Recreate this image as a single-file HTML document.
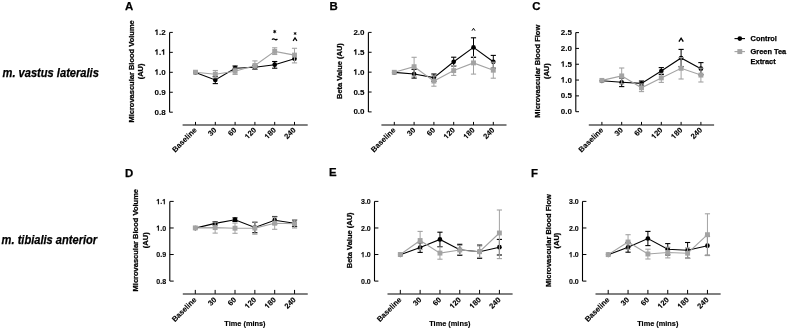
<!DOCTYPE html><html><head><meta charset="utf-8"><style>
html,body{margin:0;padding:0;background:#fff;}
svg{display:block;} #w{width:787px;height:329px;overflow:hidden;will-change:transform;}
text{font-family:"Liberation Sans", sans-serif;font-weight:bold;fill:#000;stroke:#000;stroke-width:0.25px;} path.o{fill:#000;stroke:#000;}
</style></head><body><div id="w">
<svg width="787" height="329" viewBox="0 0 787 329">
<rect width="787" height="329" fill="#fff"/>
<text x="2.5" y="76.7" textLength="96.4" lengthAdjust="spacingAndGlyphs" style="font-size:12.0px;font-style:italic">m. vastus lateralis</text>
<text x="1.6" y="243.6" textLength="95.6" lengthAdjust="spacingAndGlyphs" style="font-size:12.0px;font-style:italic">m. tibialis anterior</text>
<text x="125.0" y="10.2" style="font-size:11.4px">A</text>
<line x1="169.6" y1="32.4" x2="169.6" y2="112.2" stroke="#000" stroke-width="1.1"/>
<line x1="169.6" y1="32.40" x2="172.80" y2="32.40" stroke="#000" stroke-width="1"/>
<g transform="translate(165.700 34.900)"><text x="-11.121" y="0" style="font-size:8.0px;stroke-width:0.1px">&#8199;.2</text><path class="o" transform="translate(-11.121 0) scale(0.00391 -0.00391)" d="M759,0H478V1059Q328,915 140,846V1101Q235,1137 358,1237Q470,1327 520,1409H759Z" stroke-width="25.6"/></g>
<line x1="169.6" y1="52.35" x2="172.80" y2="52.35" stroke="#000" stroke-width="1"/>
<g transform="translate(165.700 54.850)"><text x="-11.121" y="0" style="font-size:8.0px;stroke-width:0.1px">&#8199;.&#8199;</text><path class="o" transform="translate(-11.121 0) scale(0.00391 -0.00391)" d="M759,0H478V1059Q328,915 140,846V1101Q235,1137 358,1237Q470,1327 520,1409H759Z" stroke-width="25.6"/><path class="o" transform="translate(-4.449 0) scale(0.00391 -0.00391)" d="M759,0H478V1059Q328,915 140,846V1101Q235,1137 358,1237Q470,1327 520,1409H759Z" stroke-width="25.6"/></g>
<line x1="169.6" y1="72.30" x2="172.80" y2="72.30" stroke="#000" stroke-width="1"/>
<g transform="translate(165.700 74.800)"><text x="-11.121" y="0" style="font-size:8.0px;stroke-width:0.1px">&#8199;.0</text><path class="o" transform="translate(-11.121 0) scale(0.00391 -0.00391)" d="M759,0H478V1059Q328,915 140,846V1101Q235,1137 358,1237Q470,1327 520,1409H759Z" stroke-width="25.6"/></g>
<line x1="169.6" y1="92.25" x2="172.80" y2="92.25" stroke="#000" stroke-width="1"/>
<g transform="translate(165.700 94.750)"><text x="-11.121" y="0" style="font-size:8.0px;stroke-width:0.1px">0.9</text></g>
<line x1="169.6" y1="112.20" x2="172.80" y2="112.20" stroke="#000" stroke-width="1"/>
<g transform="translate(165.700 114.700)"><text x="-11.121" y="0" style="font-size:8.0px;stroke-width:0.1px">0.8</text></g>
<text x="134.3" y="71.4" text-anchor="middle" transform="rotate(-90 134.3 71.4)" style="font-size:7.5px">Microvascular Blood Volume</text>
<text x="143.3" y="71.4" text-anchor="middle" transform="rotate(-90 143.3 71.4)" style="font-size:7.5px">(AU)</text>
<line x1="182.60" y1="124.9" x2="307.70" y2="124.9" stroke="#808080" stroke-width="2.0"/>
<line x1="195.50" y1="121.90" x2="195.50" y2="124.9" stroke="#000" stroke-width="1"/>
<text x="197.30" y="130.60" text-anchor="end" transform="rotate(-45 197.30 130.60)" style="font-size:7.6px;stroke-width:0.12px">Baseline</text>
<line x1="215.30" y1="121.90" x2="215.30" y2="124.9" stroke="#000" stroke-width="1"/>
<g transform="translate(217.100 130.600) rotate(-45)"><text x="-8.454" y="0" style="font-size:7.6px;stroke-width:0.12px">30</text></g>
<line x1="235.10" y1="121.90" x2="235.10" y2="124.9" stroke="#000" stroke-width="1"/>
<g transform="translate(236.900 130.600) rotate(-45)"><text x="-8.454" y="0" style="font-size:7.6px;stroke-width:0.12px">60</text></g>
<line x1="254.90" y1="121.90" x2="254.90" y2="124.9" stroke="#000" stroke-width="1"/>
<g transform="translate(256.700 130.600) rotate(-45)"><text x="-12.680" y="0" style="font-size:7.6px;stroke-width:0.12px">&#8199;20</text><path class="o" transform="translate(-12.680 0) scale(0.00371 -0.00371)" d="M759,0H478V1059Q328,915 140,846V1101Q235,1137 358,1237Q470,1327 520,1409H759Z" stroke-width="32.3"/></g>
<line x1="274.70" y1="121.90" x2="274.70" y2="124.9" stroke="#000" stroke-width="1"/>
<g transform="translate(276.500 130.600) rotate(-45)"><text x="-12.680" y="0" style="font-size:7.6px;stroke-width:0.12px">&#8199;80</text><path class="o" transform="translate(-12.680 0) scale(0.00371 -0.00371)" d="M759,0H478V1059Q328,915 140,846V1101Q235,1137 358,1237Q470,1327 520,1409H759Z" stroke-width="32.3"/></g>
<line x1="294.50" y1="121.90" x2="294.50" y2="124.9" stroke="#000" stroke-width="1"/>
<g transform="translate(296.300 130.600) rotate(-45)"><text x="-12.680" y="0" style="font-size:7.6px;stroke-width:0.12px">240</text></g>
<polyline points="195.50,72.40 215.30,79.90 235.10,68.20 254.90,67.30 274.70,64.70 294.50,58.70" fill="none" stroke="#000" stroke-width="1.1"/>
<circle cx="195.50" cy="72.40" r="2.35" fill="#000"/>
<line x1="215.30" y1="76.50" x2="215.30" y2="83.60" stroke="#000" stroke-width="1"/>
<line x1="212.70" y1="76.50" x2="217.90" y2="76.50" stroke="#000" stroke-width="1.1"/>
<line x1="212.70" y1="83.60" x2="217.90" y2="83.60" stroke="#000" stroke-width="1.1"/>
<circle cx="215.30" cy="79.90" r="2.35" fill="#000"/>
<line x1="235.10" y1="66.00" x2="235.10" y2="70.40" stroke="#000" stroke-width="1"/>
<line x1="232.50" y1="66.00" x2="237.70" y2="66.00" stroke="#000" stroke-width="1.1"/>
<line x1="232.50" y1="70.40" x2="237.70" y2="70.40" stroke="#000" stroke-width="1.1"/>
<circle cx="235.10" cy="68.20" r="2.35" fill="#000"/>
<line x1="254.90" y1="65.30" x2="254.90" y2="69.30" stroke="#000" stroke-width="1"/>
<line x1="252.30" y1="65.30" x2="257.50" y2="65.30" stroke="#000" stroke-width="1.1"/>
<line x1="252.30" y1="69.30" x2="257.50" y2="69.30" stroke="#000" stroke-width="1.1"/>
<circle cx="254.90" cy="67.30" r="2.35" fill="#000"/>
<line x1="274.70" y1="61.50" x2="274.70" y2="68.20" stroke="#000" stroke-width="1"/>
<line x1="272.10" y1="61.50" x2="277.30" y2="61.50" stroke="#000" stroke-width="1.1"/>
<line x1="272.10" y1="68.20" x2="277.30" y2="68.20" stroke="#000" stroke-width="1.1"/>
<circle cx="274.70" cy="64.70" r="2.35" fill="#000"/>
<circle cx="294.50" cy="58.70" r="2.35" fill="#000"/>
<polyline points="195.50,72.20 215.30,74.20 235.10,71.30 254.90,65.50 274.70,51.40 294.50,55.10" fill="none" stroke="#a3a3a3" stroke-width="1.1"/>
<rect x="193.05" y="69.75" width="4.9" height="4.9" fill="#a3a3a3"/>
<line x1="215.30" y1="70.50" x2="215.30" y2="77.80" stroke="#a3a3a3" stroke-width="1"/>
<line x1="212.70" y1="70.50" x2="217.90" y2="70.50" stroke="#a3a3a3" stroke-width="1.1"/>
<line x1="212.70" y1="77.80" x2="217.90" y2="77.80" stroke="#a3a3a3" stroke-width="1.1"/>
<rect x="212.85" y="71.75" width="4.9" height="4.9" fill="#a3a3a3"/>
<line x1="235.10" y1="68.20" x2="235.10" y2="74.40" stroke="#a3a3a3" stroke-width="1"/>
<line x1="232.50" y1="68.20" x2="237.70" y2="68.20" stroke="#a3a3a3" stroke-width="1.1"/>
<line x1="232.50" y1="74.40" x2="237.70" y2="74.40" stroke="#a3a3a3" stroke-width="1.1"/>
<rect x="232.65" y="68.85" width="4.9" height="4.9" fill="#a3a3a3"/>
<line x1="254.90" y1="60.90" x2="254.90" y2="69.00" stroke="#a3a3a3" stroke-width="1"/>
<line x1="252.30" y1="60.90" x2="257.50" y2="60.90" stroke="#a3a3a3" stroke-width="1.1"/>
<line x1="252.30" y1="69.00" x2="257.50" y2="69.00" stroke="#a3a3a3" stroke-width="1.1"/>
<rect x="252.45" y="63.05" width="4.9" height="4.9" fill="#a3a3a3"/>
<line x1="274.70" y1="47.80" x2="274.70" y2="54.50" stroke="#a3a3a3" stroke-width="1"/>
<line x1="272.10" y1="47.80" x2="277.30" y2="47.80" stroke="#a3a3a3" stroke-width="1.1"/>
<line x1="272.10" y1="54.50" x2="277.30" y2="54.50" stroke="#a3a3a3" stroke-width="1.1"/>
<rect x="272.25" y="48.95" width="4.9" height="4.9" fill="#a3a3a3"/>
<line x1="294.50" y1="48.30" x2="294.50" y2="62.90" stroke="#a3a3a3" stroke-width="1"/>
<line x1="291.90" y1="48.30" x2="297.10" y2="48.30" stroke="#a3a3a3" stroke-width="1.1"/>
<line x1="291.90" y1="62.90" x2="297.10" y2="62.90" stroke="#a3a3a3" stroke-width="1.1"/>
<rect x="292.05" y="52.65" width="4.9" height="4.9" fill="#a3a3a3"/>
<g stroke="#000" stroke-width="0.95" stroke-linecap="round"><line x1="274.70" y1="30.30" x2="274.70" y2="32.90"/><line x1="273.57" y1="30.95" x2="275.83" y2="32.25"/><line x1="273.57" y1="32.25" x2="275.83" y2="30.95"/></g>
<path d="M272.00,39.70 C273.08,38.30 273.89,38.70 274.70,39.30 S276.32,40.20 277.40,38.80" fill="none" stroke="#000" stroke-width="1.25"/>
<g stroke="#000" stroke-width="0.81" stroke-linecap="round"><line x1="295.10" y1="32.40" x2="295.10" y2="34.60"/><line x1="294.14" y1="32.95" x2="296.06" y2="34.05"/><line x1="294.14" y1="34.05" x2="296.06" y2="32.95"/></g>
<path d="M293.10,40.90 L295.00,37.90 L296.90,40.90" fill="none" stroke="#000" stroke-width="1.20" stroke-linejoin="miter"/>
<text x="329.5" y="10.0" style="font-size:11.4px">B</text>
<line x1="368.4" y1="32.4" x2="368.4" y2="111.9" stroke="#000" stroke-width="1.1"/>
<line x1="368.4" y1="32.40" x2="371.60" y2="32.40" stroke="#000" stroke-width="1"/>
<g transform="translate(364.500 34.900)"><text x="-11.121" y="0" style="font-size:8.0px;stroke-width:0.1px">2.0</text></g>
<line x1="368.4" y1="52.27" x2="371.60" y2="52.27" stroke="#000" stroke-width="1"/>
<g transform="translate(364.500 54.775)"><text x="-11.121" y="0" style="font-size:8.0px;stroke-width:0.1px">&#8199;.5</text><path class="o" transform="translate(-11.121 0) scale(0.00391 -0.00391)" d="M759,0H478V1059Q328,915 140,846V1101Q235,1137 358,1237Q470,1327 520,1409H759Z" stroke-width="25.6"/></g>
<line x1="368.4" y1="72.15" x2="371.60" y2="72.15" stroke="#000" stroke-width="1"/>
<g transform="translate(364.500 74.650)"><text x="-11.121" y="0" style="font-size:8.0px;stroke-width:0.1px">&#8199;.0</text><path class="o" transform="translate(-11.121 0) scale(0.00391 -0.00391)" d="M759,0H478V1059Q328,915 140,846V1101Q235,1137 358,1237Q470,1327 520,1409H759Z" stroke-width="25.6"/></g>
<line x1="368.4" y1="92.03" x2="371.60" y2="92.03" stroke="#000" stroke-width="1"/>
<g transform="translate(364.500 94.525)"><text x="-11.121" y="0" style="font-size:8.0px;stroke-width:0.1px">0.5</text></g>
<line x1="368.4" y1="111.90" x2="371.60" y2="111.90" stroke="#000" stroke-width="1"/>
<g transform="translate(364.500 114.400)"><text x="-11.121" y="0" style="font-size:8.0px;stroke-width:0.1px">0.0</text></g>
<text x="342.0" y="71.1" text-anchor="middle" transform="rotate(-90 342.0 71.1)" style="font-size:7.5px">Beta Value (AU)</text>
<line x1="381.40" y1="124.9" x2="506.50" y2="124.9" stroke="#808080" stroke-width="2.0"/>
<line x1="394.30" y1="121.90" x2="394.30" y2="124.9" stroke="#000" stroke-width="1"/>
<text x="396.10" y="130.60" text-anchor="end" transform="rotate(-45 396.10 130.60)" style="font-size:7.6px;stroke-width:0.12px">Baseline</text>
<line x1="414.10" y1="121.90" x2="414.10" y2="124.9" stroke="#000" stroke-width="1"/>
<g transform="translate(415.900 130.600) rotate(-45)"><text x="-8.454" y="0" style="font-size:7.6px;stroke-width:0.12px">30</text></g>
<line x1="433.90" y1="121.90" x2="433.90" y2="124.9" stroke="#000" stroke-width="1"/>
<g transform="translate(435.700 130.600) rotate(-45)"><text x="-8.454" y="0" style="font-size:7.6px;stroke-width:0.12px">60</text></g>
<line x1="453.70" y1="121.90" x2="453.70" y2="124.9" stroke="#000" stroke-width="1"/>
<g transform="translate(455.500 130.600) rotate(-45)"><text x="-12.680" y="0" style="font-size:7.6px;stroke-width:0.12px">&#8199;20</text><path class="o" transform="translate(-12.680 0) scale(0.00371 -0.00371)" d="M759,0H478V1059Q328,915 140,846V1101Q235,1137 358,1237Q470,1327 520,1409H759Z" stroke-width="32.3"/></g>
<line x1="473.50" y1="121.90" x2="473.50" y2="124.9" stroke="#000" stroke-width="1"/>
<g transform="translate(475.300 130.600) rotate(-45)"><text x="-12.680" y="0" style="font-size:7.6px;stroke-width:0.12px">&#8199;80</text><path class="o" transform="translate(-12.680 0) scale(0.00371 -0.00371)" d="M759,0H478V1059Q328,915 140,846V1101Q235,1137 358,1237Q470,1327 520,1409H759Z" stroke-width="32.3"/></g>
<line x1="493.30" y1="121.90" x2="493.30" y2="124.9" stroke="#000" stroke-width="1"/>
<g transform="translate(495.100 130.600) rotate(-45)"><text x="-12.680" y="0" style="font-size:7.6px;stroke-width:0.12px">240</text></g>
<polyline points="394.30,72.40 414.10,74.00 433.90,77.60 453.70,61.80 473.50,47.40 493.30,61.80" fill="none" stroke="#000" stroke-width="1.1"/>
<circle cx="394.30" cy="72.40" r="2.35" fill="#000"/>
<line x1="414.10" y1="69.40" x2="414.10" y2="78.10" stroke="#000" stroke-width="1"/>
<line x1="411.50" y1="69.40" x2="416.70" y2="69.40" stroke="#000" stroke-width="1.1"/>
<line x1="411.50" y1="78.10" x2="416.70" y2="78.10" stroke="#000" stroke-width="1.1"/>
<circle cx="414.10" cy="74.00" r="2.35" fill="#000"/>
<line x1="433.90" y1="74.00" x2="433.90" y2="81.20" stroke="#000" stroke-width="1"/>
<line x1="431.30" y1="74.00" x2="436.50" y2="74.00" stroke="#000" stroke-width="1.1"/>
<line x1="431.30" y1="81.20" x2="436.50" y2="81.20" stroke="#000" stroke-width="1.1"/>
<circle cx="433.90" cy="77.60" r="2.35" fill="#000"/>
<line x1="453.70" y1="57.20" x2="453.70" y2="66.00" stroke="#000" stroke-width="1"/>
<line x1="451.10" y1="57.20" x2="456.30" y2="57.20" stroke="#000" stroke-width="1.1"/>
<line x1="451.10" y1="66.00" x2="456.30" y2="66.00" stroke="#000" stroke-width="1.1"/>
<circle cx="453.70" cy="61.80" r="2.35" fill="#000"/>
<line x1="473.50" y1="37.80" x2="473.50" y2="57.40" stroke="#000" stroke-width="1"/>
<line x1="470.90" y1="37.80" x2="476.10" y2="37.80" stroke="#000" stroke-width="1.1"/>
<line x1="470.90" y1="57.40" x2="476.10" y2="57.40" stroke="#000" stroke-width="1.1"/>
<circle cx="473.50" cy="47.40" r="2.35" fill="#000"/>
<line x1="493.30" y1="55.40" x2="493.30" y2="68.20" stroke="#000" stroke-width="1"/>
<line x1="490.70" y1="55.40" x2="495.90" y2="55.40" stroke="#000" stroke-width="1.1"/>
<line x1="490.70" y1="68.20" x2="495.90" y2="68.20" stroke="#000" stroke-width="1.1"/>
<circle cx="493.30" cy="61.80" r="2.35" fill="#000"/>
<polyline points="394.30,72.30 414.10,66.70 433.90,81.10 453.70,70.60 473.50,62.90 493.30,70.20" fill="none" stroke="#a3a3a3" stroke-width="1.1"/>
<rect x="391.85" y="69.85" width="4.9" height="4.9" fill="#a3a3a3"/>
<line x1="414.10" y1="57.30" x2="414.10" y2="76.10" stroke="#a3a3a3" stroke-width="1"/>
<line x1="411.50" y1="57.30" x2="416.70" y2="57.30" stroke="#a3a3a3" stroke-width="1.1"/>
<line x1="411.50" y1="76.10" x2="416.70" y2="76.10" stroke="#a3a3a3" stroke-width="1.1"/>
<rect x="411.65" y="64.25" width="4.9" height="4.9" fill="#a3a3a3"/>
<line x1="433.90" y1="76.00" x2="433.90" y2="86.20" stroke="#a3a3a3" stroke-width="1"/>
<line x1="431.30" y1="76.00" x2="436.50" y2="76.00" stroke="#a3a3a3" stroke-width="1.1"/>
<line x1="431.30" y1="86.20" x2="436.50" y2="86.20" stroke="#a3a3a3" stroke-width="1.1"/>
<rect x="431.45" y="78.65" width="4.9" height="4.9" fill="#a3a3a3"/>
<line x1="453.70" y1="65.60" x2="453.70" y2="75.40" stroke="#a3a3a3" stroke-width="1"/>
<line x1="451.10" y1="65.60" x2="456.30" y2="65.60" stroke="#a3a3a3" stroke-width="1.1"/>
<line x1="451.10" y1="75.40" x2="456.30" y2="75.40" stroke="#a3a3a3" stroke-width="1.1"/>
<rect x="451.25" y="68.15" width="4.9" height="4.9" fill="#a3a3a3"/>
<line x1="473.50" y1="56.50" x2="473.50" y2="74.10" stroke="#a3a3a3" stroke-width="1"/>
<line x1="470.90" y1="56.50" x2="476.10" y2="56.50" stroke="#a3a3a3" stroke-width="1.1"/>
<line x1="470.90" y1="74.10" x2="476.10" y2="74.10" stroke="#a3a3a3" stroke-width="1.1"/>
<rect x="471.05" y="60.45" width="4.9" height="4.9" fill="#a3a3a3"/>
<line x1="493.30" y1="62.20" x2="493.30" y2="78.20" stroke="#a3a3a3" stroke-width="1"/>
<line x1="490.70" y1="62.20" x2="495.90" y2="62.20" stroke="#a3a3a3" stroke-width="1.1"/>
<line x1="490.70" y1="78.20" x2="495.90" y2="78.20" stroke="#a3a3a3" stroke-width="1.1"/>
<rect x="490.85" y="67.75" width="4.9" height="4.9" fill="#a3a3a3"/>
<path d="M471.98,30.70 L473.50,28.30 L475.02,30.70" fill="none" stroke="#000" stroke-width="0.96" stroke-linejoin="miter"/>
<text x="532.2" y="10.0" style="font-size:11.4px">C</text>
<line x1="575.8" y1="32.6" x2="575.8" y2="111.7" stroke="#000" stroke-width="1.1"/>
<line x1="575.8" y1="32.60" x2="579.00" y2="32.60" stroke="#000" stroke-width="1"/>
<g transform="translate(571.900 35.100)"><text x="-11.121" y="0" style="font-size:8.0px;stroke-width:0.1px">2.5</text></g>
<line x1="575.8" y1="48.42" x2="579.00" y2="48.42" stroke="#000" stroke-width="1"/>
<g transform="translate(571.900 50.920)"><text x="-11.121" y="0" style="font-size:8.0px;stroke-width:0.1px">2.0</text></g>
<line x1="575.8" y1="64.24" x2="579.00" y2="64.24" stroke="#000" stroke-width="1"/>
<g transform="translate(571.900 66.740)"><text x="-11.121" y="0" style="font-size:8.0px;stroke-width:0.1px">&#8199;.5</text><path class="o" transform="translate(-11.121 0) scale(0.00391 -0.00391)" d="M759,0H478V1059Q328,915 140,846V1101Q235,1137 358,1237Q470,1327 520,1409H759Z" stroke-width="25.6"/></g>
<line x1="575.8" y1="80.06" x2="579.00" y2="80.06" stroke="#000" stroke-width="1"/>
<g transform="translate(571.900 82.560)"><text x="-11.121" y="0" style="font-size:8.0px;stroke-width:0.1px">&#8199;.0</text><path class="o" transform="translate(-11.121 0) scale(0.00391 -0.00391)" d="M759,0H478V1059Q328,915 140,846V1101Q235,1137 358,1237Q470,1327 520,1409H759Z" stroke-width="25.6"/></g>
<line x1="575.8" y1="95.88" x2="579.00" y2="95.88" stroke="#000" stroke-width="1"/>
<g transform="translate(571.900 98.380)"><text x="-11.121" y="0" style="font-size:8.0px;stroke-width:0.1px">0.5</text></g>
<line x1="575.8" y1="111.70" x2="579.00" y2="111.70" stroke="#000" stroke-width="1"/>
<g transform="translate(571.900 114.200)"><text x="-11.121" y="0" style="font-size:8.0px;stroke-width:0.1px">0.0</text></g>
<text x="540.1" y="71.2" text-anchor="middle" transform="rotate(-90 540.1 71.2)" style="font-size:7.5px">Microvascular Blood Flow</text>
<text x="549.5" y="71.2" text-anchor="middle" transform="rotate(-90 549.5 71.2)" style="font-size:7.5px">(AU)</text>
<line x1="588.80" y1="124.9" x2="714.10" y2="124.9" stroke="#808080" stroke-width="2.0"/>
<line x1="601.90" y1="121.90" x2="601.90" y2="124.9" stroke="#000" stroke-width="1"/>
<text x="603.70" y="130.60" text-anchor="end" transform="rotate(-45 603.70 130.60)" style="font-size:7.6px;stroke-width:0.12px">Baseline</text>
<line x1="621.70" y1="121.90" x2="621.70" y2="124.9" stroke="#000" stroke-width="1"/>
<g transform="translate(623.500 130.600) rotate(-45)"><text x="-8.454" y="0" style="font-size:7.6px;stroke-width:0.12px">30</text></g>
<line x1="641.50" y1="121.90" x2="641.50" y2="124.9" stroke="#000" stroke-width="1"/>
<g transform="translate(643.300 130.600) rotate(-45)"><text x="-8.454" y="0" style="font-size:7.6px;stroke-width:0.12px">60</text></g>
<line x1="661.30" y1="121.90" x2="661.30" y2="124.9" stroke="#000" stroke-width="1"/>
<g transform="translate(663.100 130.600) rotate(-45)"><text x="-12.680" y="0" style="font-size:7.6px;stroke-width:0.12px">&#8199;20</text><path class="o" transform="translate(-12.680 0) scale(0.00371 -0.00371)" d="M759,0H478V1059Q328,915 140,846V1101Q235,1137 358,1237Q470,1327 520,1409H759Z" stroke-width="32.3"/></g>
<line x1="681.10" y1="121.90" x2="681.10" y2="124.9" stroke="#000" stroke-width="1"/>
<g transform="translate(682.900 130.600) rotate(-45)"><text x="-12.680" y="0" style="font-size:7.6px;stroke-width:0.12px">&#8199;80</text><path class="o" transform="translate(-12.680 0) scale(0.00371 -0.00371)" d="M759,0H478V1059Q328,915 140,846V1101Q235,1137 358,1237Q470,1327 520,1409H759Z" stroke-width="32.3"/></g>
<line x1="700.90" y1="121.90" x2="700.90" y2="124.9" stroke="#000" stroke-width="1"/>
<g transform="translate(702.700 130.600) rotate(-45)"><text x="-12.680" y="0" style="font-size:7.6px;stroke-width:0.12px">240</text></g>
<polyline points="601.90,80.80 621.70,82.30 641.50,83.40 661.30,71.00 681.10,58.00 700.90,68.70" fill="none" stroke="#000" stroke-width="1.1"/>
<circle cx="601.90" cy="80.80" r="2.35" fill="#000"/>
<line x1="621.70" y1="78.00" x2="621.70" y2="86.60" stroke="#000" stroke-width="1"/>
<line x1="619.10" y1="78.00" x2="624.30" y2="78.00" stroke="#000" stroke-width="1.1"/>
<line x1="619.10" y1="86.60" x2="624.30" y2="86.60" stroke="#000" stroke-width="1.1"/>
<circle cx="621.70" cy="82.30" r="2.35" fill="#000"/>
<line x1="641.50" y1="81.00" x2="641.50" y2="85.80" stroke="#000" stroke-width="1"/>
<line x1="638.90" y1="81.00" x2="644.10" y2="81.00" stroke="#000" stroke-width="1.1"/>
<line x1="638.90" y1="85.80" x2="644.10" y2="85.80" stroke="#000" stroke-width="1.1"/>
<circle cx="641.50" cy="83.40" r="2.35" fill="#000"/>
<line x1="661.30" y1="67.60" x2="661.30" y2="74.40" stroke="#000" stroke-width="1"/>
<line x1="658.70" y1="67.60" x2="663.90" y2="67.60" stroke="#000" stroke-width="1.1"/>
<line x1="658.70" y1="74.40" x2="663.90" y2="74.40" stroke="#000" stroke-width="1.1"/>
<circle cx="661.30" cy="71.00" r="2.35" fill="#000"/>
<line x1="681.10" y1="49.40" x2="681.10" y2="66.60" stroke="#000" stroke-width="1"/>
<line x1="678.50" y1="49.40" x2="683.70" y2="49.40" stroke="#000" stroke-width="1.1"/>
<line x1="678.50" y1="66.60" x2="683.70" y2="66.60" stroke="#000" stroke-width="1.1"/>
<circle cx="681.10" cy="58.00" r="2.35" fill="#000"/>
<line x1="700.90" y1="62.60" x2="700.90" y2="74.80" stroke="#000" stroke-width="1"/>
<line x1="698.30" y1="62.60" x2="703.50" y2="62.60" stroke="#000" stroke-width="1.1"/>
<line x1="698.30" y1="74.80" x2="703.50" y2="74.80" stroke="#000" stroke-width="1.1"/>
<circle cx="700.90" cy="68.70" r="2.35" fill="#000"/>
<polyline points="601.90,80.40 621.70,75.90 641.50,87.80 661.30,77.90 681.10,68.30 700.90,75.10" fill="none" stroke="#a3a3a3" stroke-width="1.1"/>
<rect x="599.45" y="77.95" width="4.9" height="4.9" fill="#a3a3a3"/>
<line x1="621.70" y1="68.00" x2="621.70" y2="83.80" stroke="#a3a3a3" stroke-width="1"/>
<line x1="619.10" y1="68.00" x2="624.30" y2="68.00" stroke="#a3a3a3" stroke-width="1.1"/>
<line x1="619.10" y1="83.80" x2="624.30" y2="83.80" stroke="#a3a3a3" stroke-width="1.1"/>
<rect x="619.25" y="73.45" width="4.9" height="4.9" fill="#a3a3a3"/>
<line x1="641.50" y1="84.00" x2="641.50" y2="91.60" stroke="#a3a3a3" stroke-width="1"/>
<line x1="638.90" y1="84.00" x2="644.10" y2="84.00" stroke="#a3a3a3" stroke-width="1.1"/>
<line x1="638.90" y1="91.60" x2="644.10" y2="91.60" stroke="#a3a3a3" stroke-width="1.1"/>
<rect x="639.05" y="85.35" width="4.9" height="4.9" fill="#a3a3a3"/>
<line x1="661.30" y1="73.40" x2="661.30" y2="82.40" stroke="#a3a3a3" stroke-width="1"/>
<line x1="658.70" y1="73.40" x2="663.90" y2="73.40" stroke="#a3a3a3" stroke-width="1.1"/>
<line x1="658.70" y1="82.40" x2="663.90" y2="82.40" stroke="#a3a3a3" stroke-width="1.1"/>
<rect x="658.85" y="75.45" width="4.9" height="4.9" fill="#a3a3a3"/>
<line x1="681.10" y1="57.60" x2="681.10" y2="79.00" stroke="#a3a3a3" stroke-width="1"/>
<line x1="678.50" y1="57.60" x2="683.70" y2="57.60" stroke="#a3a3a3" stroke-width="1.1"/>
<line x1="678.50" y1="79.00" x2="683.70" y2="79.00" stroke="#a3a3a3" stroke-width="1.1"/>
<rect x="678.65" y="65.85" width="4.9" height="4.9" fill="#a3a3a3"/>
<line x1="700.90" y1="68.20" x2="700.90" y2="82.00" stroke="#a3a3a3" stroke-width="1"/>
<line x1="698.30" y1="68.20" x2="703.50" y2="68.20" stroke="#a3a3a3" stroke-width="1.1"/>
<line x1="698.30" y1="82.00" x2="703.50" y2="82.00" stroke="#a3a3a3" stroke-width="1.1"/>
<rect x="698.45" y="72.65" width="4.9" height="4.9" fill="#a3a3a3"/>
<path d="M678.92,41.62 L681.10,38.17 L683.28,41.62" fill="none" stroke="#000" stroke-width="1.38" stroke-linejoin="miter"/>
<text x="125.1" y="177.0" style="font-size:11.4px">D</text>
<line x1="169.8" y1="201.4" x2="169.8" y2="281.1" stroke="#000" stroke-width="1.1"/>
<line x1="169.8" y1="201.40" x2="173.70" y2="201.40" stroke="#000" stroke-width="1"/>
<g transform="translate(166.100 204.200) scale(0.92 1)"><text x="-10.704" y="0" style="font-size:7.7px;stroke-width:0.1px">&#8199;.&#8199;</text><path class="o" transform="translate(-10.704 0) scale(0.00376 -0.00376)" d="M759,0H478V1059Q328,915 140,846V1101Q235,1137 358,1237Q470,1327 520,1409H759Z" stroke-width="26.6"/><path class="o" transform="translate(-4.282 0) scale(0.00376 -0.00376)" d="M759,0H478V1059Q328,915 140,846V1101Q235,1137 358,1237Q470,1327 520,1409H759Z" stroke-width="26.6"/></g>
<line x1="169.8" y1="227.97" x2="173.70" y2="227.97" stroke="#000" stroke-width="1"/>
<g transform="translate(166.100 230.767) scale(0.92 1)"><text x="-10.704" y="0" style="font-size:7.7px;stroke-width:0.1px">&#8199;.0</text><path class="o" transform="translate(-10.704 0) scale(0.00376 -0.00376)" d="M759,0H478V1059Q328,915 140,846V1101Q235,1137 358,1237Q470,1327 520,1409H759Z" stroke-width="26.6"/></g>
<line x1="169.8" y1="254.53" x2="173.70" y2="254.53" stroke="#000" stroke-width="1"/>
<g transform="translate(166.100 257.333) scale(0.92 1)"><text x="-10.704" y="0" style="font-size:7.7px;stroke-width:0.1px">0.9</text></g>
<line x1="169.8" y1="281.10" x2="173.70" y2="281.10" stroke="#000" stroke-width="1"/>
<g transform="translate(166.100 283.900) scale(0.92 1)"><text x="-10.704" y="0" style="font-size:7.7px;stroke-width:0.1px">0.8</text></g>
<text x="138.0" y="240.2" text-anchor="middle" transform="rotate(-90 138.0 240.2)" style="font-size:7.5px">Microvascular Blood Volume</text>
<text x="148.3" y="240.2" text-anchor="middle" transform="rotate(-90 148.3 240.2)" style="font-size:7.5px">(AU)</text>
<line x1="182.80" y1="293.9" x2="307.75" y2="293.9" stroke="#808080" stroke-width="2.0"/>
<line x1="195.30" y1="289.90" x2="195.30" y2="293.9" stroke="#000" stroke-width="1"/>
<text x="197.10" y="300.20" text-anchor="end" transform="rotate(-45 197.10 300.20)" style="font-size:7.6px;stroke-width:0.12px">Baseline</text>
<line x1="215.15" y1="289.90" x2="215.15" y2="293.9" stroke="#000" stroke-width="1"/>
<g transform="translate(216.950 300.200) rotate(-45)"><text x="-8.454" y="0" style="font-size:7.6px;stroke-width:0.12px">30</text></g>
<line x1="235.00" y1="289.90" x2="235.00" y2="293.9" stroke="#000" stroke-width="1"/>
<g transform="translate(236.800 300.200) rotate(-45)"><text x="-8.454" y="0" style="font-size:7.6px;stroke-width:0.12px">60</text></g>
<line x1="254.85" y1="289.90" x2="254.85" y2="293.9" stroke="#000" stroke-width="1"/>
<g transform="translate(256.650 300.200) rotate(-45)"><text x="-12.680" y="0" style="font-size:7.6px;stroke-width:0.12px">&#8199;20</text><path class="o" transform="translate(-12.680 0) scale(0.00371 -0.00371)" d="M759,0H478V1059Q328,915 140,846V1101Q235,1137 358,1237Q470,1327 520,1409H759Z" stroke-width="32.3"/></g>
<line x1="274.70" y1="289.90" x2="274.70" y2="293.9" stroke="#000" stroke-width="1"/>
<g transform="translate(276.500 300.200) rotate(-45)"><text x="-12.680" y="0" style="font-size:7.6px;stroke-width:0.12px">&#8199;80</text><path class="o" transform="translate(-12.680 0) scale(0.00371 -0.00371)" d="M759,0H478V1059Q328,915 140,846V1101Q235,1137 358,1237Q470,1327 520,1409H759Z" stroke-width="32.3"/></g>
<line x1="294.55" y1="289.90" x2="294.55" y2="293.9" stroke="#000" stroke-width="1"/>
<g transform="translate(296.350 300.200) rotate(-45)"><text x="-12.680" y="0" style="font-size:7.6px;stroke-width:0.12px">240</text></g>
<text x="244.93" y="325.90" text-anchor="middle" textLength="41.2" lengthAdjust="spacingAndGlyphs" style="font-size:7.7px;stroke-width:0.15px">Time (mins)</text>
<polyline points="195.30,228.10 215.15,223.40 235.00,219.70 254.85,227.50 274.70,220.20 294.55,223.30" fill="none" stroke="#000" stroke-width="1.1"/>
<circle cx="195.30" cy="228.10" r="2.35" fill="#000"/>
<line x1="215.15" y1="221.80" x2="215.15" y2="225.00" stroke="#000" stroke-width="1"/>
<line x1="212.55" y1="221.80" x2="217.75" y2="221.80" stroke="#000" stroke-width="1.1"/>
<line x1="212.55" y1="225.00" x2="217.75" y2="225.00" stroke="#000" stroke-width="1.1"/>
<circle cx="215.15" cy="223.40" r="2.35" fill="#000"/>
<line x1="235.00" y1="217.90" x2="235.00" y2="221.50" stroke="#000" stroke-width="1"/>
<line x1="232.40" y1="217.90" x2="237.60" y2="217.90" stroke="#000" stroke-width="1.1"/>
<line x1="232.40" y1="221.50" x2="237.60" y2="221.50" stroke="#000" stroke-width="1.1"/>
<circle cx="235.00" cy="219.70" r="2.35" fill="#000"/>
<line x1="254.85" y1="222.30" x2="254.85" y2="232.70" stroke="#000" stroke-width="1"/>
<line x1="252.25" y1="222.30" x2="257.45" y2="222.30" stroke="#000" stroke-width="1.1"/>
<line x1="252.25" y1="232.70" x2="257.45" y2="232.70" stroke="#000" stroke-width="1.1"/>
<circle cx="254.85" cy="227.50" r="2.35" fill="#000"/>
<line x1="274.70" y1="216.50" x2="274.70" y2="223.90" stroke="#000" stroke-width="1"/>
<line x1="272.10" y1="216.50" x2="277.30" y2="216.50" stroke="#000" stroke-width="1.1"/>
<line x1="272.10" y1="223.90" x2="277.30" y2="223.90" stroke="#000" stroke-width="1.1"/>
<circle cx="274.70" cy="220.20" r="2.35" fill="#000"/>
<line x1="294.55" y1="220.00" x2="294.55" y2="226.60" stroke="#000" stroke-width="1"/>
<line x1="291.95" y1="220.00" x2="297.15" y2="220.00" stroke="#000" stroke-width="1.1"/>
<line x1="291.95" y1="226.60" x2="297.15" y2="226.60" stroke="#000" stroke-width="1.1"/>
<circle cx="294.55" cy="223.30" r="2.35" fill="#000"/>
<polyline points="195.30,227.90 215.15,227.60 235.00,228.20 254.85,228.10 274.70,223.20 294.55,223.80" fill="none" stroke="#a3a3a3" stroke-width="1.1"/>
<rect x="192.85" y="225.45" width="4.9" height="4.9" fill="#a3a3a3"/>
<line x1="215.15" y1="222.10" x2="215.15" y2="233.10" stroke="#a3a3a3" stroke-width="1"/>
<line x1="212.55" y1="222.10" x2="217.75" y2="222.10" stroke="#a3a3a3" stroke-width="1.1"/>
<line x1="212.55" y1="233.10" x2="217.75" y2="233.10" stroke="#a3a3a3" stroke-width="1.1"/>
<rect x="212.70" y="225.15" width="4.9" height="4.9" fill="#a3a3a3"/>
<line x1="235.00" y1="223.10" x2="235.00" y2="233.30" stroke="#a3a3a3" stroke-width="1"/>
<line x1="232.40" y1="223.10" x2="237.60" y2="223.10" stroke="#a3a3a3" stroke-width="1.1"/>
<line x1="232.40" y1="233.30" x2="237.60" y2="233.30" stroke="#a3a3a3" stroke-width="1.1"/>
<rect x="232.55" y="225.75" width="4.9" height="4.9" fill="#a3a3a3"/>
<line x1="254.85" y1="222.00" x2="254.85" y2="234.20" stroke="#a3a3a3" stroke-width="1"/>
<line x1="252.25" y1="222.00" x2="257.45" y2="222.00" stroke="#a3a3a3" stroke-width="1.1"/>
<line x1="252.25" y1="234.20" x2="257.45" y2="234.20" stroke="#a3a3a3" stroke-width="1.1"/>
<rect x="252.40" y="225.65" width="4.9" height="4.9" fill="#a3a3a3"/>
<line x1="274.70" y1="217.10" x2="274.70" y2="229.30" stroke="#a3a3a3" stroke-width="1"/>
<line x1="272.10" y1="217.10" x2="277.30" y2="217.10" stroke="#a3a3a3" stroke-width="1.1"/>
<line x1="272.10" y1="229.30" x2="277.30" y2="229.30" stroke="#a3a3a3" stroke-width="1.1"/>
<rect x="272.25" y="220.75" width="4.9" height="4.9" fill="#a3a3a3"/>
<line x1="294.55" y1="219.60" x2="294.55" y2="228.00" stroke="#a3a3a3" stroke-width="1"/>
<line x1="291.95" y1="219.60" x2="297.15" y2="219.60" stroke="#a3a3a3" stroke-width="1.1"/>
<line x1="291.95" y1="228.00" x2="297.15" y2="228.00" stroke="#a3a3a3" stroke-width="1.1"/>
<rect x="292.10" y="221.35" width="4.9" height="4.9" fill="#a3a3a3"/>
<text x="329.0" y="175.8" style="font-size:11.4px">E</text>
<line x1="374.5" y1="201.4" x2="374.5" y2="281.1" stroke="#000" stroke-width="1.1"/>
<line x1="374.5" y1="201.40" x2="378.40" y2="201.40" stroke="#000" stroke-width="1"/>
<g transform="translate(370.800 204.200) scale(0.92 1)"><text x="-10.704" y="0" style="font-size:7.7px;stroke-width:0.1px">3.0</text></g>
<line x1="374.5" y1="227.97" x2="378.40" y2="227.97" stroke="#000" stroke-width="1"/>
<g transform="translate(370.800 230.767) scale(0.92 1)"><text x="-10.704" y="0" style="font-size:7.7px;stroke-width:0.1px">2.0</text></g>
<line x1="374.5" y1="254.53" x2="378.40" y2="254.53" stroke="#000" stroke-width="1"/>
<g transform="translate(370.800 257.333) scale(0.92 1)"><text x="-10.704" y="0" style="font-size:7.7px;stroke-width:0.1px">&#8199;.0</text><path class="o" transform="translate(-10.704 0) scale(0.00376 -0.00376)" d="M759,0H478V1059Q328,915 140,846V1101Q235,1137 358,1237Q470,1327 520,1409H759Z" stroke-width="26.6"/></g>
<line x1="374.5" y1="281.10" x2="378.40" y2="281.10" stroke="#000" stroke-width="1"/>
<g transform="translate(370.800 283.900) scale(0.92 1)"><text x="-10.704" y="0" style="font-size:7.7px;stroke-width:0.1px">0.0</text></g>
<text x="352.4" y="240.3" text-anchor="middle" transform="rotate(-90 352.4 240.3)" style="font-size:7.5px">Beta Value (AU)</text>
<line x1="387.50" y1="293.9" x2="512.60" y2="293.9" stroke="#808080" stroke-width="2.0"/>
<line x1="400.30" y1="289.90" x2="400.30" y2="293.9" stroke="#000" stroke-width="1"/>
<text x="402.10" y="300.20" text-anchor="end" transform="rotate(-45 402.10 300.20)" style="font-size:7.6px;stroke-width:0.12px">Baseline</text>
<line x1="420.12" y1="289.90" x2="420.12" y2="293.9" stroke="#000" stroke-width="1"/>
<g transform="translate(421.920 300.200) rotate(-45)"><text x="-8.454" y="0" style="font-size:7.6px;stroke-width:0.12px">30</text></g>
<line x1="439.94" y1="289.90" x2="439.94" y2="293.9" stroke="#000" stroke-width="1"/>
<g transform="translate(441.740 300.200) rotate(-45)"><text x="-8.454" y="0" style="font-size:7.6px;stroke-width:0.12px">60</text></g>
<line x1="459.76" y1="289.90" x2="459.76" y2="293.9" stroke="#000" stroke-width="1"/>
<g transform="translate(461.560 300.200) rotate(-45)"><text x="-12.680" y="0" style="font-size:7.6px;stroke-width:0.12px">&#8199;20</text><path class="o" transform="translate(-12.680 0) scale(0.00371 -0.00371)" d="M759,0H478V1059Q328,915 140,846V1101Q235,1137 358,1237Q470,1327 520,1409H759Z" stroke-width="32.3"/></g>
<line x1="479.58" y1="289.90" x2="479.58" y2="293.9" stroke="#000" stroke-width="1"/>
<g transform="translate(481.380 300.200) rotate(-45)"><text x="-12.680" y="0" style="font-size:7.6px;stroke-width:0.12px">&#8199;80</text><path class="o" transform="translate(-12.680 0) scale(0.00371 -0.00371)" d="M759,0H478V1059Q328,915 140,846V1101Q235,1137 358,1237Q470,1327 520,1409H759Z" stroke-width="32.3"/></g>
<line x1="499.40" y1="289.90" x2="499.40" y2="293.9" stroke="#000" stroke-width="1"/>
<g transform="translate(501.200 300.200) rotate(-45)"><text x="-12.680" y="0" style="font-size:7.6px;stroke-width:0.12px">240</text></g>
<text x="449.85" y="325.90" text-anchor="middle" textLength="41.2" lengthAdjust="spacingAndGlyphs" style="font-size:7.7px;stroke-width:0.15px">Time (mins)</text>
<polyline points="400.30,254.80 420.12,247.60 439.94,239.40 459.76,249.80 479.58,251.70 499.40,247.20" fill="none" stroke="#000" stroke-width="1.1"/>
<circle cx="400.30" cy="254.80" r="2.35" fill="#000"/>
<line x1="420.12" y1="242.80" x2="420.12" y2="252.40" stroke="#000" stroke-width="1"/>
<line x1="417.52" y1="242.80" x2="422.72" y2="242.80" stroke="#000" stroke-width="1.1"/>
<line x1="417.52" y1="252.40" x2="422.72" y2="252.40" stroke="#000" stroke-width="1.1"/>
<circle cx="420.12" cy="247.60" r="2.35" fill="#000"/>
<line x1="439.94" y1="232.20" x2="439.94" y2="246.60" stroke="#000" stroke-width="1"/>
<line x1="437.34" y1="232.20" x2="442.54" y2="232.20" stroke="#000" stroke-width="1.1"/>
<line x1="437.34" y1="246.60" x2="442.54" y2="246.60" stroke="#000" stroke-width="1.1"/>
<circle cx="439.94" cy="239.40" r="2.35" fill="#000"/>
<line x1="459.76" y1="244.30" x2="459.76" y2="255.30" stroke="#000" stroke-width="1"/>
<line x1="457.16" y1="244.30" x2="462.36" y2="244.30" stroke="#000" stroke-width="1.1"/>
<line x1="457.16" y1="255.30" x2="462.36" y2="255.30" stroke="#000" stroke-width="1.1"/>
<circle cx="459.76" cy="249.80" r="2.35" fill="#000"/>
<line x1="479.58" y1="245.10" x2="479.58" y2="258.30" stroke="#000" stroke-width="1"/>
<line x1="476.98" y1="245.10" x2="482.18" y2="245.10" stroke="#000" stroke-width="1.1"/>
<line x1="476.98" y1="258.30" x2="482.18" y2="258.30" stroke="#000" stroke-width="1.1"/>
<circle cx="479.58" cy="251.70" r="2.35" fill="#000"/>
<line x1="499.40" y1="239.40" x2="499.40" y2="255.00" stroke="#000" stroke-width="1"/>
<line x1="496.80" y1="239.40" x2="502.00" y2="239.40" stroke="#000" stroke-width="1.1"/>
<line x1="496.80" y1="255.00" x2="502.00" y2="255.00" stroke="#000" stroke-width="1.1"/>
<circle cx="499.40" cy="247.20" r="2.35" fill="#000"/>
<polyline points="400.30,254.50 420.12,240.50 439.94,253.10 459.76,250.00 479.58,251.70 499.40,233.00" fill="none" stroke="#a3a3a3" stroke-width="1.1"/>
<rect x="397.85" y="252.05" width="4.9" height="4.9" fill="#a3a3a3"/>
<line x1="420.12" y1="231.40" x2="420.12" y2="249.60" stroke="#a3a3a3" stroke-width="1"/>
<line x1="417.52" y1="231.40" x2="422.72" y2="231.40" stroke="#a3a3a3" stroke-width="1.1"/>
<line x1="417.52" y1="249.60" x2="422.72" y2="249.60" stroke="#a3a3a3" stroke-width="1.1"/>
<rect x="417.67" y="238.05" width="4.9" height="4.9" fill="#a3a3a3"/>
<line x1="439.94" y1="247.00" x2="439.94" y2="259.20" stroke="#a3a3a3" stroke-width="1"/>
<line x1="437.34" y1="247.00" x2="442.54" y2="247.00" stroke="#a3a3a3" stroke-width="1.1"/>
<line x1="437.34" y1="259.20" x2="442.54" y2="259.20" stroke="#a3a3a3" stroke-width="1.1"/>
<rect x="437.49" y="250.65" width="4.9" height="4.9" fill="#a3a3a3"/>
<line x1="459.76" y1="245.50" x2="459.76" y2="254.50" stroke="#a3a3a3" stroke-width="1"/>
<line x1="457.16" y1="245.50" x2="462.36" y2="245.50" stroke="#a3a3a3" stroke-width="1.1"/>
<line x1="457.16" y1="254.50" x2="462.36" y2="254.50" stroke="#a3a3a3" stroke-width="1.1"/>
<rect x="457.31" y="247.55" width="4.9" height="4.9" fill="#a3a3a3"/>
<line x1="479.58" y1="246.00" x2="479.58" y2="257.40" stroke="#a3a3a3" stroke-width="1"/>
<line x1="476.98" y1="246.00" x2="482.18" y2="246.00" stroke="#a3a3a3" stroke-width="1.1"/>
<line x1="476.98" y1="257.40" x2="482.18" y2="257.40" stroke="#a3a3a3" stroke-width="1.1"/>
<rect x="477.13" y="249.25" width="4.9" height="4.9" fill="#a3a3a3"/>
<line x1="499.40" y1="210.00" x2="499.40" y2="258.60" stroke="#a3a3a3" stroke-width="1"/>
<line x1="496.80" y1="210.00" x2="502.00" y2="210.00" stroke="#a3a3a3" stroke-width="1.1"/>
<line x1="496.80" y1="258.60" x2="502.00" y2="258.60" stroke="#a3a3a3" stroke-width="1.1"/>
<rect x="496.95" y="230.55" width="4.9" height="4.9" fill="#a3a3a3"/>
<text x="531.0" y="177.0" style="font-size:11.4px">F</text>
<line x1="582.5" y1="201.4" x2="582.5" y2="281.1" stroke="#000" stroke-width="1.1"/>
<line x1="582.5" y1="201.40" x2="586.40" y2="201.40" stroke="#000" stroke-width="1"/>
<g transform="translate(578.800 204.200) scale(0.92 1)"><text x="-10.704" y="0" style="font-size:7.7px;stroke-width:0.1px">3.0</text></g>
<line x1="582.5" y1="227.97" x2="586.40" y2="227.97" stroke="#000" stroke-width="1"/>
<g transform="translate(578.800 230.767) scale(0.92 1)"><text x="-10.704" y="0" style="font-size:7.7px;stroke-width:0.1px">2.0</text></g>
<line x1="582.5" y1="254.53" x2="586.40" y2="254.53" stroke="#000" stroke-width="1"/>
<g transform="translate(578.800 257.333) scale(0.92 1)"><text x="-10.704" y="0" style="font-size:7.7px;stroke-width:0.1px">&#8199;.0</text><path class="o" transform="translate(-10.704 0) scale(0.00376 -0.00376)" d="M759,0H478V1059Q328,915 140,846V1101Q235,1137 358,1237Q470,1327 520,1409H759Z" stroke-width="26.6"/></g>
<line x1="582.5" y1="281.10" x2="586.40" y2="281.10" stroke="#000" stroke-width="1"/>
<g transform="translate(578.800 283.900) scale(0.92 1)"><text x="-10.704" y="0" style="font-size:7.7px;stroke-width:0.1px">0.0</text></g>
<text x="550.9" y="240.6" text-anchor="middle" transform="rotate(-90 550.9 240.6)" style="font-size:7.5px">Microvascular Blood Flow</text>
<text x="559.2" y="240.6" text-anchor="middle" transform="rotate(-90 559.2 240.6)" style="font-size:7.5px">(AU)</text>
<line x1="595.50" y1="293.9" x2="720.65" y2="293.9" stroke="#808080" stroke-width="2.0"/>
<line x1="608.20" y1="289.90" x2="608.20" y2="293.9" stroke="#000" stroke-width="1"/>
<text x="610.00" y="300.20" text-anchor="end" transform="rotate(-45 610.00 300.20)" style="font-size:7.6px;stroke-width:0.12px">Baseline</text>
<line x1="628.05" y1="289.90" x2="628.05" y2="293.9" stroke="#000" stroke-width="1"/>
<g transform="translate(629.850 300.200) rotate(-45)"><text x="-8.454" y="0" style="font-size:7.6px;stroke-width:0.12px">30</text></g>
<line x1="647.90" y1="289.90" x2="647.90" y2="293.9" stroke="#000" stroke-width="1"/>
<g transform="translate(649.700 300.200) rotate(-45)"><text x="-8.454" y="0" style="font-size:7.6px;stroke-width:0.12px">60</text></g>
<line x1="667.75" y1="289.90" x2="667.75" y2="293.9" stroke="#000" stroke-width="1"/>
<g transform="translate(669.550 300.200) rotate(-45)"><text x="-12.680" y="0" style="font-size:7.6px;stroke-width:0.12px">&#8199;20</text><path class="o" transform="translate(-12.680 0) scale(0.00371 -0.00371)" d="M759,0H478V1059Q328,915 140,846V1101Q235,1137 358,1237Q470,1327 520,1409H759Z" stroke-width="32.3"/></g>
<line x1="687.60" y1="289.90" x2="687.60" y2="293.9" stroke="#000" stroke-width="1"/>
<g transform="translate(689.400 300.200) rotate(-45)"><text x="-12.680" y="0" style="font-size:7.6px;stroke-width:0.12px">&#8199;80</text><path class="o" transform="translate(-12.680 0) scale(0.00371 -0.00371)" d="M759,0H478V1059Q328,915 140,846V1101Q235,1137 358,1237Q470,1327 520,1409H759Z" stroke-width="32.3"/></g>
<line x1="707.45" y1="289.90" x2="707.45" y2="293.9" stroke="#000" stroke-width="1"/>
<g transform="translate(709.250 300.200) rotate(-45)"><text x="-12.680" y="0" style="font-size:7.6px;stroke-width:0.12px">240</text></g>
<text x="657.83" y="325.90" text-anchor="middle" textLength="41.2" lengthAdjust="spacingAndGlyphs" style="font-size:7.7px;stroke-width:0.15px">Time (mins)</text>
<polyline points="608.20,254.80 628.05,247.30 647.90,238.50 667.75,249.20 687.60,250.20 707.45,245.70" fill="none" stroke="#000" stroke-width="1.1"/>
<circle cx="608.20" cy="254.80" r="2.35" fill="#000"/>
<line x1="628.05" y1="242.40" x2="628.05" y2="252.20" stroke="#000" stroke-width="1"/>
<line x1="625.45" y1="242.40" x2="630.65" y2="242.40" stroke="#000" stroke-width="1.1"/>
<line x1="625.45" y1="252.20" x2="630.65" y2="252.20" stroke="#000" stroke-width="1.1"/>
<circle cx="628.05" cy="247.30" r="2.35" fill="#000"/>
<line x1="647.90" y1="231.40" x2="647.90" y2="245.60" stroke="#000" stroke-width="1"/>
<line x1="645.30" y1="231.40" x2="650.50" y2="231.40" stroke="#000" stroke-width="1.1"/>
<line x1="645.30" y1="245.60" x2="650.50" y2="245.60" stroke="#000" stroke-width="1.1"/>
<circle cx="647.90" cy="238.50" r="2.35" fill="#000"/>
<line x1="667.75" y1="243.60" x2="667.75" y2="254.90" stroke="#000" stroke-width="1"/>
<line x1="665.15" y1="243.60" x2="670.35" y2="243.60" stroke="#000" stroke-width="1.1"/>
<line x1="665.15" y1="254.90" x2="670.35" y2="254.90" stroke="#000" stroke-width="1.1"/>
<circle cx="667.75" cy="249.20" r="2.35" fill="#000"/>
<line x1="687.60" y1="242.50" x2="687.60" y2="258.20" stroke="#000" stroke-width="1"/>
<line x1="685.00" y1="242.50" x2="690.20" y2="242.50" stroke="#000" stroke-width="1.1"/>
<line x1="685.00" y1="258.20" x2="690.20" y2="258.20" stroke="#000" stroke-width="1.1"/>
<circle cx="687.60" cy="250.20" r="2.35" fill="#000"/>
<line x1="707.45" y1="236.10" x2="707.45" y2="255.30" stroke="#000" stroke-width="1"/>
<line x1="704.85" y1="236.10" x2="710.05" y2="236.10" stroke="#000" stroke-width="1.1"/>
<line x1="704.85" y1="255.30" x2="710.05" y2="255.30" stroke="#000" stroke-width="1.1"/>
<circle cx="707.45" cy="245.70" r="2.35" fill="#000"/>
<polyline points="608.20,254.60 628.05,242.00 647.90,254.00 667.75,252.50 687.60,253.20 707.45,234.70" fill="none" stroke="#a3a3a3" stroke-width="1.1"/>
<rect x="605.75" y="252.15" width="4.9" height="4.9" fill="#a3a3a3"/>
<line x1="628.05" y1="234.70" x2="628.05" y2="249.30" stroke="#a3a3a3" stroke-width="1"/>
<line x1="625.45" y1="234.70" x2="630.65" y2="234.70" stroke="#a3a3a3" stroke-width="1.1"/>
<line x1="625.45" y1="249.30" x2="630.65" y2="249.30" stroke="#a3a3a3" stroke-width="1.1"/>
<rect x="625.60" y="239.55" width="4.9" height="4.9" fill="#a3a3a3"/>
<line x1="647.90" y1="249.20" x2="647.90" y2="259.00" stroke="#a3a3a3" stroke-width="1"/>
<line x1="645.30" y1="249.20" x2="650.50" y2="249.20" stroke="#a3a3a3" stroke-width="1.1"/>
<line x1="645.30" y1="259.00" x2="650.50" y2="259.00" stroke="#a3a3a3" stroke-width="1.1"/>
<rect x="645.45" y="251.55" width="4.9" height="4.9" fill="#a3a3a3"/>
<line x1="667.75" y1="247.20" x2="667.75" y2="257.90" stroke="#a3a3a3" stroke-width="1"/>
<line x1="665.15" y1="247.20" x2="670.35" y2="247.20" stroke="#a3a3a3" stroke-width="1.1"/>
<line x1="665.15" y1="257.90" x2="670.35" y2="257.90" stroke="#a3a3a3" stroke-width="1.1"/>
<rect x="665.30" y="250.05" width="4.9" height="4.9" fill="#a3a3a3"/>
<line x1="687.60" y1="247.90" x2="687.60" y2="258.50" stroke="#a3a3a3" stroke-width="1"/>
<line x1="685.00" y1="247.90" x2="690.20" y2="247.90" stroke="#a3a3a3" stroke-width="1.1"/>
<line x1="685.00" y1="258.50" x2="690.20" y2="258.50" stroke="#a3a3a3" stroke-width="1.1"/>
<rect x="685.15" y="250.75" width="4.9" height="4.9" fill="#a3a3a3"/>
<line x1="707.45" y1="213.80" x2="707.45" y2="255.60" stroke="#a3a3a3" stroke-width="1"/>
<line x1="704.85" y1="213.80" x2="710.05" y2="213.80" stroke="#a3a3a3" stroke-width="1.1"/>
<line x1="704.85" y1="255.60" x2="710.05" y2="255.60" stroke="#a3a3a3" stroke-width="1.1"/>
<rect x="705.00" y="232.25" width="4.9" height="4.9" fill="#a3a3a3"/>
<line x1="734.5" y1="38.6" x2="745.0" y2="38.6" stroke="#000" stroke-width="1.1"/>
<circle cx="739.8" cy="38.6" r="2.35" fill="#000"/>
<text x="750.6" y="41.4" style="font-size:7.4px">Control</text>
<line x1="734.5" y1="51.6" x2="745.0" y2="51.6" stroke="#a3a3a3" stroke-width="1.1"/>
<rect x="737.35" y="49.15" width="4.9" height="4.9" fill="#a3a3a3"/>
<text x="750.6" y="54.3" style="font-size:7.4px">Green Tea</text>
<text x="750.6" y="63.8" style="font-size:7.4px">Extract</text>
</svg></div></body></html>
